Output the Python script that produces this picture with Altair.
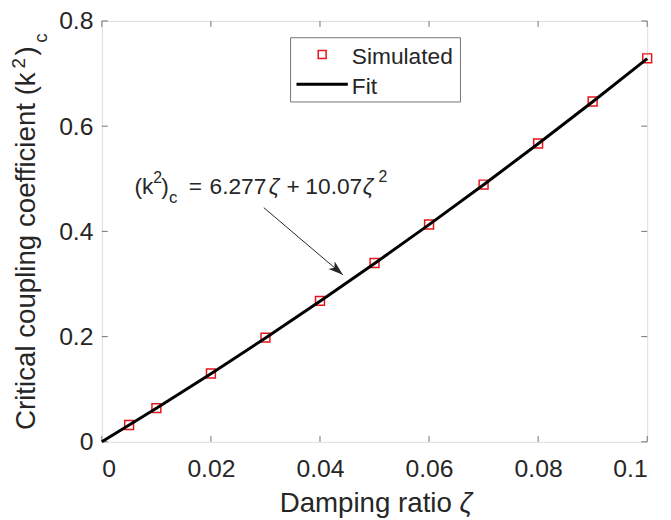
import altair as alt
import pandas as pd

# ---- data ----
zeta_sim = [0.005, 0.01, 0.02, 0.03, 0.04, 0.05, 0.06, 0.07, 0.08, 0.09, 0.10]
k2_sim = [0.032, 0.064, 0.130, 0.198, 0.268, 0.340, 0.413, 0.489, 0.567, 0.647, 0.729]
zeta_fit = [0.0, 0.01, 0.02, 0.03, 0.04, 0.05, 0.06, 0.07, 0.08, 0.09, 0.10]
k2_fit = [0.0, 0.0638, 0.1296, 0.1974, 0.2672, 0.3390, 0.4129, 0.4887, 0.5666, 0.6465, 0.7284]
x_ticks = [0, 0.02, 0.04, 0.06, 0.08, 0.1]
y_ticks = [0, 0.2, 0.4, 0.6, 0.8]
arrow_start = [0.0297, 0.4451]
arrow_end = [0.0442, 0.3174]

W, H = 552, 426
FONT = "Liberation Sans"
TXT = "#262626"
AX = "#737373"
RED = "#e8141c"

xs = alt.Scale(domain=[0, 0.1], nice=False, zero=False)
ys = alt.Scale(domain=[0, 0.8], nice=False, zero=False)

sim = pd.DataFrame({"zeta": zeta_sim, "k2": k2_sim})
fit = pd.DataFrame({"zeta": zeta_fit, "k2": k2_fit})
xt = pd.DataFrame({"v": x_ticks})
yt = pd.DataFrame({"v": y_ticks})
one = pd.DataFrame({"a": [0]})

x_axis = alt.Axis(values=x_ticks, format="~g", grid=False, domain=False, ticks=False,
                  tickSize=0, labelFont=FONT, labelFontSize=25, labelColor=TXT,
                  labelPadding=15, title=None)
y_axis = alt.Axis(values=y_ticks, format="~g", grid=False, domain=False, ticks=False,
                  tickSize=0, labelFont=FONT, labelFontSize=25, labelColor=TXT,
                  labelPadding=9, title=None)

X = lambda f: alt.X(f, scale=xs, axis=x_axis)
Y = lambda f: alt.Y(f, scale=ys, axis=y_axis)

points = alt.Chart(sim).mark_point(shape="square", size=81, filled=False, color=RED,
                                   strokeWidth=1.5, opacity=1).encode(
    x=X("zeta:Q"), y=Y("k2:Q"))

line = alt.Chart(fit).mark_line(color="black", strokeWidth=3).encode(
    x=X("zeta:Q"), y=Y("k2:Q"))

tk = dict(color=AX, strokeWidth=1)
tick_b = alt.Chart(xt).mark_rule(**tk).encode(x=X("v:Q"), y=alt.value(H), y2=alt.value(H - 6))
tick_t = alt.Chart(xt).mark_rule(**tk).encode(x=X("v:Q"), y=alt.value(0), y2=alt.value(6))
tick_l = alt.Chart(yt).mark_rule(**tk).encode(y=Y("v:Q"), x=alt.value(0), x2=alt.value(6))
tick_r = alt.Chart(yt).mark_rule(**tk).encode(y=Y("v:Q"), x=alt.value(W), x2=alt.value(W - 6))


def txt(t, x, y, size, angle=0, italic=False):
    return alt.Chart(pd.DataFrame({"t": [t]})).mark_text(
        font=FONT, fontSize=size, color=TXT, align="left", baseline="alphabetic",
        angle=angle, fontStyle="italic" if italic else "normal").encode(
        x=alt.value(x), y=alt.value(y), text="t:N")


# legend
leg_box = alt.Chart(one).mark_rect(fill="white", stroke=AX, strokeWidth=1).encode(
    x=alt.value(191), x2=alt.value(363), y=alt.value(17), y2=alt.value(82))
leg_sq = alt.Chart(one).mark_point(shape="square", size=64, filled=False, color=RED,
                                   strokeWidth=1.5, opacity=1).encode(
    x=alt.value(223), y=alt.value(34))
leg_ln = alt.Chart(one).mark_rule(color="black", strokeWidth=3).encode(
    x=alt.value(197), x2=alt.value(249), y=alt.value(64))
leg_t1 = txt("Simulated", 253, 44, 23)
leg_t2 = txt("Fit", 253, 74, 23)

# arrow
arr = pd.DataFrame({"x": [arrow_start[0]], "y": [arrow_start[1]],
                    "x2": [arrow_end[0]], "y2": [arrow_end[1]]})
arrow_line = alt.Chart(arr).mark_rule(color=TXT, strokeWidth=1).encode(
    x=X("x:Q"), y=Y("y:Q"), x2="x2:Q", y2="y2:Q")
arrow_head = alt.Chart(arr).mark_point(
    shape="M0,0L-2,-0.65L-1.5,0L-2,0.65Z", size=225, filled=True, color=TXT,
    opacity=1, angle=40.4).encode(x=X("x2:Q"), y=Y("y2:Q"))

# equation annotation
ann = [
    txt("(k", 33, 175, 23),
    txt("2", 52, 164, 16),
    txt(")", 60, 175, 23),
    txt("c", 68, 184, 17),
    txt("=", 88, 175, 23),
    txt("6.277", 109, 175, 23),
    txt("ζ", 169, 175, 23, italic=True),
    txt("+", 187, 175, 23),
    txt("10.07", 206, 175, 23),
    txt("ζ", 264, 175, 23, italic=True),
    txt("2", 280, 163, 16),
]

# axis titles
titles = [
    txt("Critical coupling coefficient (k", -68, 414, 28, angle=270),
    txt("2", -78, 48, 19, angle=270),
    txt(")", -68, 35, 28, angle=270),
    txt("c", -56, 22, 19, angle=270),
    txt("Damping ratio", 180, 497, 28),
    txt("ζ", 362, 497, 28, italic=True),
]

chart = alt.layer(
    tick_b, tick_t, tick_l, tick_r, points, line,
    leg_box, leg_sq, leg_ln, leg_t1, leg_t2,
    arrow_line, arrow_head, *ann, *titles
).properties(
    width=W, height=H,
    autosize=alt.AutoSizeParams(type="none"),
    padding={"left": 95, "top": 10, "right": 16, "bottom": 76},
).configure_view(stroke=AX, strokeWidth=1).configure(background="white")

chart.save("out.html", embed_options={"renderer": "svg", "actions": False})
